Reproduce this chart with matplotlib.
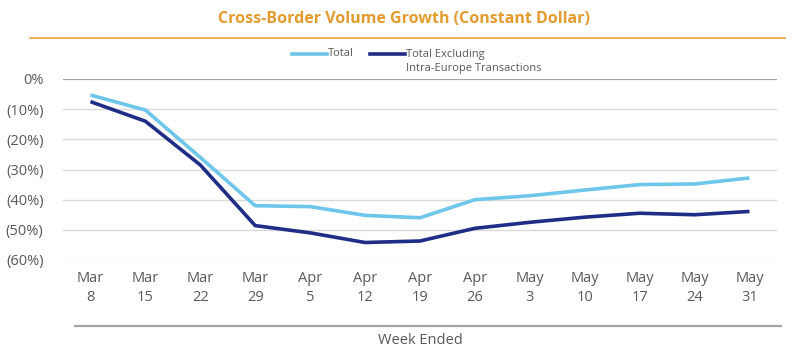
import matplotlib.pyplot as plt
import numpy as np
from matplotlib.lines import Line2D

# data
weeks = ['Mar\n8', 'Mar\n15', 'Mar\n22', 'Mar\n29', 'Apr\n5', 'Apr\n12', 'Apr\n19',
         'Apr\n26', 'May\n3', 'May\n10', 'May\n17', 'May\n24', 'May\n31']
total = [-5.3, -10.3, -26.0, -42.0, -42.3, -45.2, -46.0, -40.0, -38.7, -36.8, -35.0, -34.8, -32.8]
excl_europe = [-7.5, -14.0, -28.5, -48.6, -51.0, -54.2, -53.7, -49.5, -47.5, -45.8, -44.5, -45.0, -43.9]
yticks = [0, -10, -20, -30, -40, -50, -60]
ylabels = ['0%', '(10%)', '(20%)', '(30%)', '(40%)', '(50%)', '(60%)']

plt.rcParams['font.family'] = ['Open Sans', 'DejaVu Sans']
gray = '#595959'
light = '#6EC6EA'
dark = '#1F2D86'

fig = plt.figure(figsize=(8.08, 3.62), dpi=100)
ax = fig.add_axes([63/808, 1-260/362, 714/808, 181/362])

x = np.arange(len(weeks))
ax.plot(x, total, color=light, lw=2.6, solid_capstyle='butt')
ax.plot(x, excl_europe, color=dark, lw=2.6, solid_capstyle='butt')

ax.set_xlim(-0.5, 12.5)
ax.set_ylim(-60, 0)
ax.set_yticks(yticks)
ax.set_yticklabels(ylabels)
ax.set_xticks(x)
ax.set_xticklabels(weeks, linespacing=1.35)
ax.tick_params(length=0, labelsize=10.5, colors=gray)
ax.tick_params(axis='x', pad=8)
ax.tick_params(axis='y', pad=14)
for s in ax.spines.values():
    s.set_visible(False)
for t in yticks:
    if t == 0:
        ax.axhline(t, color='#A6A6A6', lw=1.6, zorder=0)
    else:
        ax.axhline(t, color='#D9D9D9', lw=1.0, zorder=0)

# title and rules
fig.text(0.5, 1-19/362, 'Cross-Border Volume Growth (Constant Dollar)', ha='center', va='center',
         fontsize=11.5, fontweight='bold', color='#E39B2E')
fig.add_artist(Line2D([30/808, 785/808], [1-38/362, 1-38/362], color='#E8A33A', lw=1.2))
fig.add_artist(Line2D([75/808, 781/808], [1-326/362, 1-326/362], color='#A6A6A6', lw=1.6))
fig.text(420/808, 1-341/362, 'Week Ended', ha='center', va='center', fontsize=10.5, color=gray)

# legend, drawn by hand so the handles sit on the first text line
ly = 1-54/362
fig.add_artist(Line2D([292/808, 327/808], [ly, ly], color=light, lw=2.6))
fig.text(328/808, ly, 'Total', ha='left', va='center', fontsize=8, color=gray)
fig.add_artist(Line2D([370/808, 405/808], [ly, ly], color=dark, lw=2.6))
fig.text(406/808, ly, 'Total Excluding', ha='left', va='center', fontsize=8, color=gray)
fig.text(406/808, 1-69/362, 'Intra-Europe Transactions', ha='left', va='center', fontsize=8, color=gray)

fig.savefig('out.png', dpi=100)
